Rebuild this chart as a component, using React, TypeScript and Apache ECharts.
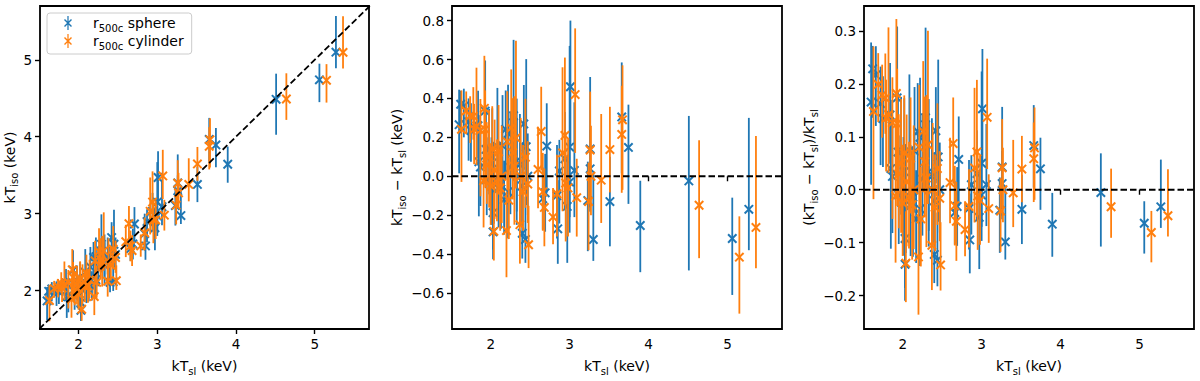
import React, { useEffect, useRef } from "react";
import * as echarts from "echarts";

// ---------- data ----------
const xTicks = [2, 3, 4, 5];
const p1YTicks = [2, 3, 4, 5];
const p2YTicks = [-0.6, -0.4, -0.2, 0, 0.2, 0.4, 0.6, 0.8];
const p3YTicks = [-0.2, -0.1, 0, 0.1, 0.2, 0.3];

const sphereName = "r500c sphere";
const cylinderName = "r500c cylinder";

// kT_sl (keV), kT_iso - kT_sl (keV), upper / lower error on kT_iso (keV)
const sphereTsl = [1.6, 1.62, 1.66, 1.72, 1.75, 1.84, 1.85, 1.87, 1.93, 1.94, 1.98, 1.95, 2.01, 2.02, 2.03, 2.03, 2.04, 2.085, 2.1, 2.15, 2.17, 2.19, 2.22, 2.25, 2.29, 2.33, 2.33, 2.37, 2.4, 2.44, 2.42, 2.45, 2.4, 2.47, 2.22, 2.13, 2.66, 2.69, 2.71, 2.84, 2.85, 2.87, 2.94, 2.97, 3.01, 3.0, 3.06, 3.0, 3.26, 3.26, 3.23, 3.3, 3.51, 3.66, 3.745, 3.895, 4.51, 5.06, 5.27];
const sphereDiff = [0.265, 0.37, 0.36, 0.28, 0.235, 0.26, 0.074, 0.047, 0.335, 0.138, 0.147, -0.02, -0.05, 0.069, -0.187, -0.286, -0.024, 0.154, -0.063, 0.157, -0.12, 0.241, 0.22, 0.045, 0.311, 0.0, 0.079, 0.06, -0.293, -0.325, 0.269, 0.152, -0.05, 0.0, -0.08, -0.03, -0.115, -0.085, 0.155, -0.1, -0.27, 0.027, 0.09, -0.155, 0.46, 0.15, 0.03, -0.03, 0.14, 0.038, -0.125, -0.325, -0.13, 0.305, 0.148, -0.253, -0.024, -0.32, -0.17];
const sphereErrUp = [0.18, 0.07, 0.09, 0.12, 0.14, 0.18, 0.24, 0.2, 0.26, 0.22, 0.2, 0.22, 0.25, 0.28, 0.22, 0.16, 0.2, 0.3, 0.24, 0.26, 0.2, 0.2, 0.25, 0.28, 0.39, 0.3, 0.32, 0.26, 0.2, 0.22, 0.2, 0.45, 0.22, 0.22, 0.22, 0.2, 0.16, 0.2, 0.22, 0.26, 0.25, 0.16, 0.24, 0.26, 0.34, 0.52, 0.35, 0.22, 0.37, 0.2, 0.2, 0.34, 0.23, 0.28, 0.22, 0.23, 0.334, 0.21, 0.47];
const sphereErrDown = [0.25, 0.15, 0.16, 0.2, 0.16, 0.17, 0.28, 0.2, 0.22, 0.2, 0.24, 0.18, 0.2, 0.22, 0.19, 0.14, 0.22, 0.22, 0.2, 0.25, 0.18, 0.26, 0.24, 0.24, 0.3, 0.25, 0.26, 0.22, 0.13, 0.12, 0.24, 0.3, 0.2, 0.2, 0.24, 0.24, 0.16, 0.2, 0.24, 0.22, 0.18, 0.27, 0.26, 0.29, 0.3, 0.36, 0.24, 0.26, 0.3, 0.22, 0.26, 0.11, 0.23, 0.29, 0.29, 0.24, 0.46, 0.29, 0.21];

const cylinderTsl = [1.63, 1.69, 1.74, 1.78, 1.79, 1.82, 1.87, 1.92, 1.93, 1.91, 1.95, 1.98, 2.0, 2.04, 2.05, 2.08, 2.1, 2.14, 2.2, 2.21, 2.23, 2.26, 2.3, 2.32, 2.37, 2.38, 2.41, 2.44, 2.48, 2.47, 2.28, 2.12, 2.02, 2.6, 2.64, 2.68, 2.66, 2.79, 2.84, 2.91, 2.94, 2.95, 2.98, 3.07, 3.09, 3.24, 3.27, 3.26, 3.4, 3.51, 3.67, 3.66, 4.64, 5.15, 5.36];
const cylinderDiff = [0.241, 0.336, 0.311, 0.308, 0.242, 0.258, 0.237, 0.349, 0.241, -0.023, 0.058, 0.099, -0.05, -0.283, 0.031, -0.031, 0.126, 0.0, -0.279, 0.177, -0.123, 0.249, 0.051, 0.197, -0.249, 0.0, -0.08, 0.098, -0.352, -0.04, 0.121, -0.06, 0.14, 0.035, 0.23, -0.16, -0.08, -0.21, -0.09, 0.12, 0.21, -0.035, -0.06, 0.42, -0.11, -0.13, 0.0, 0.135, -0.02, 0.137, 0.29, 0.215, -0.149, -0.416, -0.263];
const cylinderErrUp = [0.2, 0.1, 0.1, 0.15, 0.13, 0.3, 0.16, 0.27, 0.2, 0.25, 0.22, 0.24, 0.22, 0.2, 0.26, 0.22, 0.24, 0.26, 0.2, 0.26, 0.22, 0.3, 0.36, 0.5, 0.22, 0.3, 0.24, 0.3, 0.2, 0.22, 0.28, 0.22, 0.22, 0.22, 0.23, 0.2, 0.2, 0.15, 0.2, 0.44, 0.4, 0.26, 0.25, 0.34, 0.2, 0.2, 0.26, 0.3, 0.34, 0.22, 0.28, 0.25, 0.334, 0.21, 0.47];
const cylinderErrDown = [0.27, 0.12, 0.14, 0.12, 0.18, 0.2, 0.34, 0.3, 0.3, 0.24, 0.2, 0.26, 0.2, 0.15, 0.25, 0.2, 0.22, 0.24, 0.24, 0.25, 0.2, 0.26, 0.3, 0.26, 0.2, 0.25, 0.2, 0.26, 0.12, 0.2, 0.24, 0.22, 0.2, 0.2, 0.2, 0.2, 0.2, 0.14, 0.22, 0.3, 0.36, 0.3, 0.25, 0.3, 0.2, 0.25, 0.2, 0.25, 0.22, 0.22, 0.36, 0.3, 0.272, 0.29, 0.21];

// ---------- styling ----------
const BLUE = "#1f77b4";
const ORANGE = "#ff7f0e";
const FONT = "DejaVu Sans";
const X_MIN = 1.51;
const X_MAX = 5.69;

const legendIcon =
  "path://M4.3,0L5.7,0L5.7,16L4.3,16ZM1.57,3.43L9.57,11.43L8.43,12.57L0.43,4.57ZM9.57,4.57L1.57,12.57L0.43,11.43L8.43,3.43Z";

const rich = {
  n: { fontSize: 14, fontFamily: FONT, color: "#000", lineHeight: 20 },
  s: { fontSize: 10, fontFamily: FONT, color: "#000", lineHeight: 10, verticalAlign: "bottom" as const },
  sp: { width: 16, fontSize: 14, lineHeight: 20 },
};

const fmtMinus = (digits: number) => (v: number) => {
  const s = Math.abs(v).toFixed(digits);
  return v < -1e-9 ? "\u2212" + s : s;
};

type Row = [number, number, number, number];

function buildRows(xs: number[], ds: number[], up: number[], dn: number[], panel: number): Row[] {
  return xs.map((x, i) => {
    const d = ds[i];
    if (panel === 0) return [x, x + d, x + d - dn[i], x + d + up[i]];
    if (panel === 1) return [x, d, d - dn[i], d + up[i]];
    return [x, d / x, (d - dn[i]) / x, (d + up[i]) / x];
  });
}

function errSeries(name: string, color: string, data: Row[], idx: number) {
  return {
    type: "custom",
    name,
    xAxisIndex: idx,
    yAxisIndex: idx,
    itemStyle: { color },
    clip: true,
    z: 2,
    encode: { x: 0, y: [1, 2, 3] },
    data,
    renderItem: (_params: any, api: any) => {
      const x = api.value(0);
      const y = api.value(1);
      const lo = api.value(2);
      const hi = api.value(3);
      const p = api.coord([x, y]);
      const a = api.coord([x, lo]);
      const b = api.coord([x, hi]);
      const s = 4.2;
      const st = { stroke: color, lineWidth: 2, fill: null };
      return {
        type: "group",
        children: [
          { type: "line", shape: { x1: a[0], y1: a[1], x2: b[0], y2: b[1] }, style: { stroke: color, lineWidth: 1.8, fill: null } },
          { type: "line", shape: { x1: p[0] - s, y1: p[1] - s, x2: p[0] + s, y2: p[1] + s }, style: st },
          { type: "line", shape: { x1: p[0] - s, y1: p[1] + s, x2: p[0] + s, y2: p[1] - s }, style: st },
        ],
      };
    },
  };
}

function dashedLine(data: number[][], idx: number) {
  return {
    type: "line",
    xAxisIndex: idx,
    yAxisIndex: idx,
    data,
    symbol: "none",
    silent: true,
    clip: true,
    z: 3,
    lineStyle: { color: "#000", width: 1.8, type: [6.5, 3] },
  };
}

function xAxisDef(idx: number) {
  return {
    type: "value",
    gridIndex: idx,
    min: X_MIN,
    max: X_MAX,
    axisLine: { show: false },
    splitLine: { show: false },
    axisTick: { show: true, customValues: xTicks, length: 5, lineStyle: { color: "#000", width: 1.4 } },
    axisLabel: { customValues: xTicks, fontSize: 13.5, fontFamily: FONT, color: "#000", margin: 8, formatter: (v: number) => String(Math.round(v)) },
    name: "{n|kT}{s|sl}{n| (keV)}",
    nameLocation: "middle",
    nameGap: 27,
    nameTextStyle: { rich },
  };
}

function yAxisDef(idx: number, min: number, max: number, ticks: number[], fmt: (v: number) => string, name: string, gap: number) {
  return {
    type: "value",
    gridIndex: idx,
    min,
    max,
    axisLine: { show: false },
    splitLine: { show: false },
    axisTick: { show: true, customValues: ticks, length: 5, lineStyle: { color: "#000", width: 1.4 } },
    axisLabel: { customValues: ticks, fontSize: 13.5, fontFamily: FONT, color: "#000", margin: 8, formatter: fmt },
    name,
    nameLocation: "middle",
    nameGap: gap,
    nameTextStyle: { rich },
  };
}

const gridBase = { show: true, borderColor: "#000", borderWidth: 1.8, backgroundColor: "transparent", containLabel: false };

export default function App() {
  const ref = useRef<HTMLDivElement>(null);

  useEffect(() => {
    if (!ref.current) return;
    const chart = echarts.init(ref.current, null, { renderer: "svg" });

    const series: any[] = [];
    for (let p = 0; p < 3; p++) {
      series.push(errSeries(sphereName, BLUE, buildRows(sphereTsl, sphereDiff, sphereErrUp, sphereErrDown, p), p));
      series.push(errSeries(cylinderName, ORANGE, buildRows(cylinderTsl, cylinderDiff, cylinderErrUp, cylinderErrDown, p), p));
    }
    series.push(dashedLine([[1.5, 1.5], [5.7, 5.7]], 0));
    series.push(dashedLine([[X_MIN, 0], [X_MAX, 0]], 1));
    series.push(dashedLine([[X_MIN, 0], [X_MAX, 0]], 2));

    chart.setOption({
      animation: false,
      backgroundColor: "#fff",
      grid: [
        { ...gridBase, left: 40, top: 6, width: 329, height: 330 },
        { ...gridBase, left: 452, top: 6, width: 330, height: 331 },
        { ...gridBase, left: 864, top: 6, width: 330, height: 330 },
      ],
      xAxis: [xAxisDef(0), xAxisDef(1), xAxisDef(2)],
      yAxis: [
        yAxisDef(0, 1.5, 5.7, p1YTicks, (v: number) => String(Math.round(v)), "{n|kT}{s|iso}{n| (keV)}", 20),
        yAxisDef(1, -0.785, 0.875, p2YTicks, fmtMinus(1), "{n|kT}{s|iso}{n| \u2212 kT}{s|sl}{n| (keV)}", 42),
        yAxisDef(2, -0.263, 0.347, p3YTicks, fmtMinus(1), "{n|(kT}{s|iso}{n| \u2212 kT}{s|sl}{n|)/kT}{s|sl}", 42),
      ],
      legend: {
        orient: "vertical",
        left: 47,
        top: 13,
        padding: [3, 8, 3, 17],
        itemGap: 1,
        itemWidth: 8,
        itemHeight: 14,
        backgroundColor: "rgba(255,255,255,0.8)",
        borderColor: "#cccccc",
        borderWidth: 1,
        borderRadius: 3,
        data: [
          { name: sphereName, icon: legendIcon, itemStyle: { color: BLUE } },
          { name: cylinderName, icon: legendIcon, itemStyle: { color: ORANGE } },
        ],
        formatter: (name: string) =>
          name === sphereName ? "{sp| }{n|r}{s|500c}{n| sphere}" : "{sp| }{n|r}{s|500c}{n| cylinder}",
        textStyle: { rich },
      },
      series,
    });

    return () => chart.dispose();
  }, []);

  return (
    <div
      ref={ref}
      style={{ position: "fixed", left: 0, top: 0, width: 1200, height: 381, background: "#fff" }}
    />
  );
}
